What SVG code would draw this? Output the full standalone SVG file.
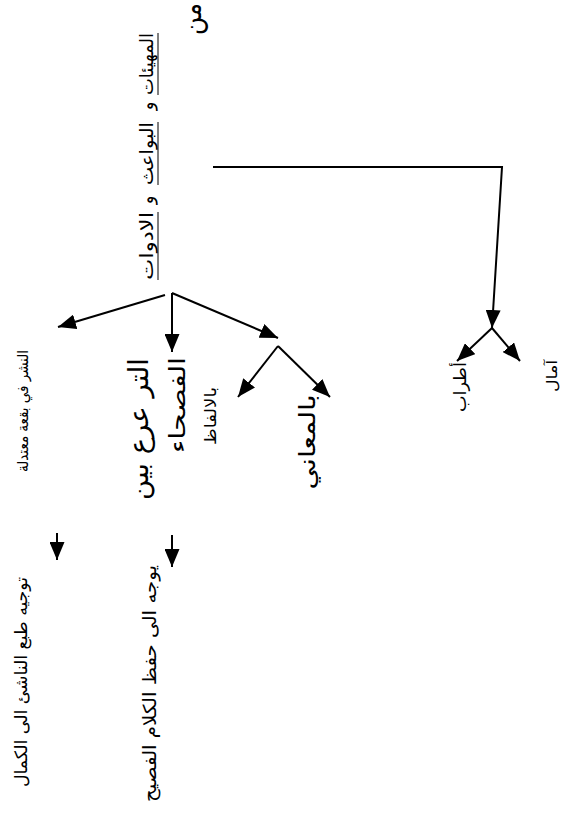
<svg xmlns="http://www.w3.org/2000/svg" width="569" height="813" viewBox="0 0 569 813">
<defs>
<marker id="ah" markerUnits="userSpaceOnUse" markerWidth="18" markerHeight="15" viewBox="0 0 18 15" refX="18" refY="7.5" orient="auto">
<path d="M0,0 L18,7.5 L0,15 z" fill="#000"/>
</marker>
<style>
text{font-family:"DejaVu Sans","Noto Sans",sans-serif;fill:#000;text-anchor:middle}
.c{fill:none;stroke:#000;stroke-width:2;marker-end:url(#ah)}
.u{stroke:#000;stroke-width:1}
</style>
</defs>
<rect width="569" height="813" fill="#fff"/>
<g id="connectors">
<polyline class="c" points="213,167 502,167 492,328"/>
<line class="c" x1="492" y1="328" x2="457" y2="361"/>
<line class="c" x1="492" y1="328" x2="520" y2="361"/>
<line class="c" x1="165" y1="295" x2="58" y2="327"/>
<line class="c" x1="172" y1="293" x2="172" y2="352"/>
<line class="c" x1="172" y1="293" x2="278" y2="338"/>
<line class="c" x1="278" y1="346" x2="238" y2="397"/>
<line class="c" x1="278" y1="346" x2="330" y2="397"/>
<line class="c" x1="57" y1="533" x2="57" y2="560"/>
<line class="c" x1="172" y1="535" x2="172" y2="567"/>
</g>
<g id="n-min"><text transform="translate(201,19) rotate(-90)" font-size="28" textLength="32" lengthAdjust="spacingAndGlyphs">من</text></g>
<g id="n-header">
<text transform="translate(153,64) rotate(-90)" font-size="18" textLength="62" lengthAdjust="spacingAndGlyphs">المهيئات</text>
<text transform="translate(153,106) rotate(-90)" font-size="18">و</text>
<text transform="translate(153,153.5) rotate(-90)" font-size="18" textLength="63" lengthAdjust="spacingAndGlyphs">البواعث</text>
<text transform="translate(153,200) rotate(-90)" font-size="18">و</text>
<text transform="translate(153,246) rotate(-90)" font-size="18" textLength="68" lengthAdjust="spacingAndGlyphs">الادوات</text>
<line class="u" x1="158" y1="33" x2="158" y2="95"/>
<line class="u" x1="158" y1="122" x2="158" y2="185"/>
<line class="u" x1="158" y1="212" x2="158" y2="280"/>
</g>
<g id="n-atrab"><text transform="translate(466,387) rotate(-90)" font-size="17" textLength="50" lengthAdjust="spacingAndGlyphs">أطراب</text></g>
<g id="n-amal"><text transform="translate(557,376) rotate(-90)" font-size="15" textLength="32" lengthAdjust="spacingAndGlyphs">آمال</text></g>
<g id="n-nashr"><text transform="translate(28,411) rotate(-90)" font-size="15" textLength="122" lengthAdjust="spacingAndGlyphs">النشر في بقعة معتدلة</text></g>
<g id="n-taraoro"><text transform="translate(148,429) rotate(-90)" font-size="27" textLength="142" lengthAdjust="spacingAndGlyphs">التر عرع بين</text></g>
<g id="n-fusaha"><text transform="translate(185,405) rotate(-90)" font-size="22" textLength="96" lengthAdjust="spacingAndGlyphs">الفصحاء</text></g>
<g id="n-alfaz"><text transform="translate(216,416) rotate(-90)" font-size="16" textLength="58" lengthAdjust="spacingAndGlyphs">بالالفاظ</text></g>
<g id="n-maani"><text transform="translate(315,442) rotate(-90)" font-size="23" textLength="95" lengthAdjust="spacingAndGlyphs">بالمعاني</text></g>
<g id="n-tawjih"><text transform="translate(27,682) rotate(-90)" font-size="17" textLength="210" lengthAdjust="spacingAndGlyphs">توجيه طبع الناشئ الى الكمال</text></g>
<g id="n-yuwajjih"><text transform="translate(156,683.5) rotate(-90)" font-size="18" textLength="237" lengthAdjust="spacingAndGlyphs">يوجه الى حفظ الكلام الفصيح</text></g>
</svg>
